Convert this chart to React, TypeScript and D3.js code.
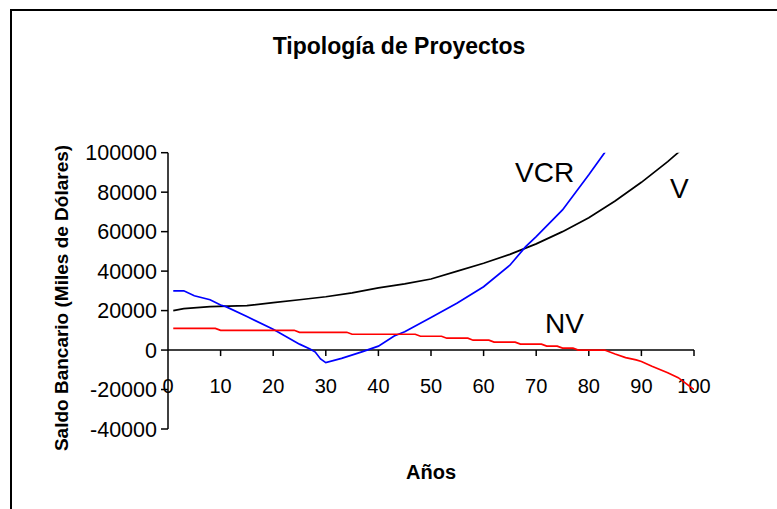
import * as d3 from 'd3';
import { useEffect, useRef } from 'react';

// valores (años, saldo en miles de dólares)
const vYears = [1, 3, 8, 15, 20, 25, 30, 35, 40, 45, 50, 55, 60, 65, 70, 75, 80, 85, 90, 95, 100];
const vValues = [20000, 21000, 22000, 22500, 24000, 25500, 27000, 29000, 31500, 33500, 36000, 40000, 44000, 48500, 53800, 60000, 67000, 75500, 85000, 95500, 107000];

const vcrYears = [1, 3, 5, 8, 10, 11, 15, 20, 25, 27, 28, 29, 30, 33, 37, 40, 43, 45, 50, 55, 60, 65, 68, 70, 75, 80, 83, 85];
const vcrValues = [30000, 30000, 27500, 25500, 22800, 22000, 17000, 10500, 3000, 500, -1000, -4500, -6400, -4200, -800, 2000, 7100, 9300, 16500, 23800, 32100, 43000, 52400, 57500, 71000, 88800, 100000, 110000];

const nvYears = [1, 9, 10, 24, 25, 34, 35, 47, 48, 52, 53, 57, 58, 61, 62, 66, 67, 71, 72, 74, 75, 77, 78, 83, 85, 87, 89, 90, 92, 95, 97, 100];
const nvValues = [11000, 11000, 10000, 10000, 9000, 9000, 8000, 8000, 7000, 7000, 6000, 6000, 5000, 5000, 4000, 4000, 3000, 3000, 2000, 2000, 1000, 1000, 0, 0, -2000, -3800, -5000, -5800, -8200, -11500, -14000, -20000];

const xTicks = [0, 10, 20, 30, 40, 50, 60, 70, 80, 90, 100];
const yTicks = [-40000, -20000, 0, 20000, 40000, 60000, 80000, 100000];

const series = [
    { name: 'V', years: vYears, values: vValues, color: '#000000', label: { x: 670, y: 198 } },
    { name: 'VCR', years: vcrYears, values: vcrValues, color: '#0000ff', label: { x: 515, y: 182 } },
    { name: 'NV', years: nvYears, values: nvValues, color: '#ff0000', label: { x: 545, y: 333 } },
];

const FONT = '"Liberation Sans", Arial, Helvetica, sans-serif';

function App() {
    const ref = useRef<SVGSVGElement>(null);

    useEffect(() => {
        const svg = d3.select(ref.current);
        svg.selectAll('*').remove();

        const width = 777;
        const height = 509;
        const left = 168, right = 694, top = 152.7, bottom = 429;

        const x = d3.scaleLinear().domain([0, 100]).range([left, right]);
        const y = d3.scaleLinear().domain([-40000, 100000]).range([bottom, top]);

        svg.append('rect').attr('width', width).attr('height', height).attr('fill', '#fff');

        // marco del gráfico (sin borde derecho ni inferior)
        svg.append('path')
            .attr('d', `M11,${height} L11,10 L${width},10`)
            .attr('fill', 'none')
            .attr('stroke', '#000')
            .attr('stroke-width', 2);

        svg.append('text')
            .attr('x', 399).attr('y', 54)
            .attr('text-anchor', 'middle')
            .attr('font-family', FONT).attr('font-weight', 'bold').attr('font-size', 23)
            .text('Tipología de Proyectos');

        // eje Y
        const yAxis = svg.append('g');
        yAxis.append('line')
            .attr('x1', x(0)).attr('x2', x(0))
            .attr('y1', y(-40000)).attr('y2', y(100000))
            .attr('stroke', '#000').attr('stroke-width', 1.5);
        yAxis.selectAll('line.tick')
            .data(yTicks)
            .join('line')
            .attr('class', 'tick')
            .attr('x1', x(0) - 7).attr('x2', x(0))
            .attr('y1', d => y(d)).attr('y2', d => y(d))
            .attr('stroke', '#000').attr('stroke-width', 1.5);
        yAxis.selectAll('text')
            .data(yTicks)
            .join('text')
            .attr('x', 157)
            .attr('y', d => y(d))
            .attr('dy', '0.36em')
            .attr('text-anchor', 'end')
            .attr('font-family', FONT).attr('font-size', 21.5)
            .text(d => String(d));

        // eje X en y=0
        const xAxis = svg.append('g');
        xAxis.append('line')
            .attr('x1', x(0)).attr('x2', x(100))
            .attr('y1', y(0)).attr('y2', y(0))
            .attr('stroke', '#000').attr('stroke-width', 1.5);
        xAxis.selectAll('line.tick')
            .data(xTicks.slice(1))
            .join('line')
            .attr('class', 'tick')
            .attr('x1', d => x(d)).attr('x2', d => x(d))
            .attr('y1', y(0)).attr('y2', y(0) + 6)
            .attr('stroke', '#000').attr('stroke-width', 1.5);
        xAxis.selectAll('text')
            .data(xTicks)
            .join('text')
            .attr('x', d => x(d))
            .attr('y', 393)
            .attr('text-anchor', 'middle')
            .attr('font-family', FONT).attr('font-size', 20)
            .text(d => String(d));

        // recorte del área de trazado
        svg.append('clipPath').attr('id', 'plot-clip')
            .append('rect')
            .attr('x', left).attr('y', top)
            .attr('width', right - left).attr('height', bottom - top);

        const line = d3.line<[number, number]>()
            .x(d => x(d[0]))
            .y(d => y(d[1]));

        series.forEach(s => {
            const pts = s.years.map((yr, i) => [yr, s.values[i]] as [number, number]);
            svg.append('path')
                .datum(pts)
                .attr('d', line)
                .attr('fill', 'none')
                .attr('stroke', s.color)
                .attr('stroke-width', 1.7)
                .attr('clip-path', 'url(#plot-clip)');
            svg.append('text')
                .attr('x', s.label.x).attr('y', s.label.y)
                .attr('font-family', FONT).attr('font-size', 28)
                .text(s.name);
        });

        svg.append('text')
            .attr('transform', 'translate(68,298) rotate(-90)')
            .attr('text-anchor', 'middle')
            .attr('font-family', FONT).attr('font-weight', 'bold').attr('font-size', 19)
            .text('Saldo Bancario (Miles de Dólares)');

        svg.append('text')
            .attr('x', 431).attr('y', 479)
            .attr('text-anchor', 'middle')
            .attr('font-family', FONT).attr('font-weight', 'bold').attr('font-size', 20)
            .text('Años');
    }, []);

    return (
        <svg ref={ref} width={777} height={509} style={{ position: 'absolute', left: 0, top: 0 }} />
    );
}

export default App;
